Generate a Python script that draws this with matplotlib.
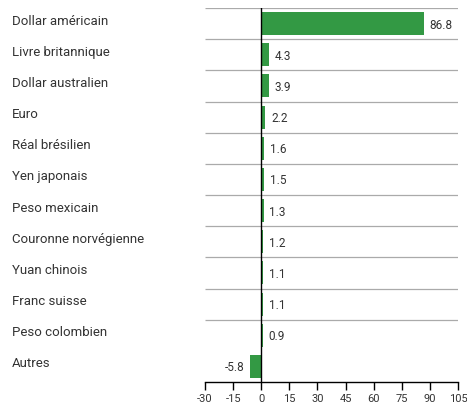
import numpy as np
from matplotlib import pyplot as plt
from matplotlib.transforms import blended_transform_factory

plt.rcParams['font.family'] = ['Roboto', 'DejaVu Sans']

devises = ['Dollar américain', 'Livre britannique', 'Dollar australien', 'Euro',
           'Réal brésilien', 'Yen japonais', 'Peso mexicain', 'Couronne norvégienne',
           'Yuan chinois', 'Franc suisse', 'Peso colombien', 'Autres']
valeurs = [86.8, 4.3, 3.9, 2.2, 1.6, 1.5, 1.3, 1.2, 1.1, 1.1, 0.9, -5.8]
ticks = [-30, -15, 0, 15, 30, 45, 60, 75, 90, 105]

fig = plt.figure(figsize=(4.67, 4.05), dpi=100)
ax = fig.add_axes([205 / 467, 1 - 382 / 405, 253 / 467, 374 / 405])

pos = np.arange(len(devises))
ax.barh(pos, valeurs, height=0.74, color='#339944', zorder=2)
ax.hlines(np.arange(len(devises) - 1) - 0.5, ticks[0], ticks[-1], color='#aaaaaa', lw=0.9, zorder=1)
ax.axvline(0, color='black', lw=1, zorder=3)

lab_tr = blended_transform_factory(fig.transFigure, ax.transData)
for i, v in enumerate(valeurs):
    if v >= 0:
        ax.text(v + 3, i + 0.05, f'{v:.1f}', va='center', ha='left', fontsize=8.5, color='#333333')
    else:
        ax.text(v - 3, i + 0.05, f'{v:.1f}', va='center', ha='right', fontsize=8.5, color='#333333')
    ax.text(12 / 467, i - 0.08, devises[i], transform=lab_tr, fontsize=9.5,
            va='center', ha='left', color='#333333')

ax.set_xlim(ticks[0], ticks[-1])
ax.set_ylim(len(devises) - 0.5, -0.5)
ax.set_xticks(ticks)
ax.set_xticklabels([str(t) for t in ticks], fontsize=8, color='#333333')
ax.set_yticks([])
ax.tick_params(axis='x', direction='out', length=6, width=1, pad=3)
for s in ['top', 'right', 'left']:
    ax.spines[s].set_visible(False)
ax.spines['bottom'].set_linewidth(1)

fig.savefig('out.png', dpi=100)
